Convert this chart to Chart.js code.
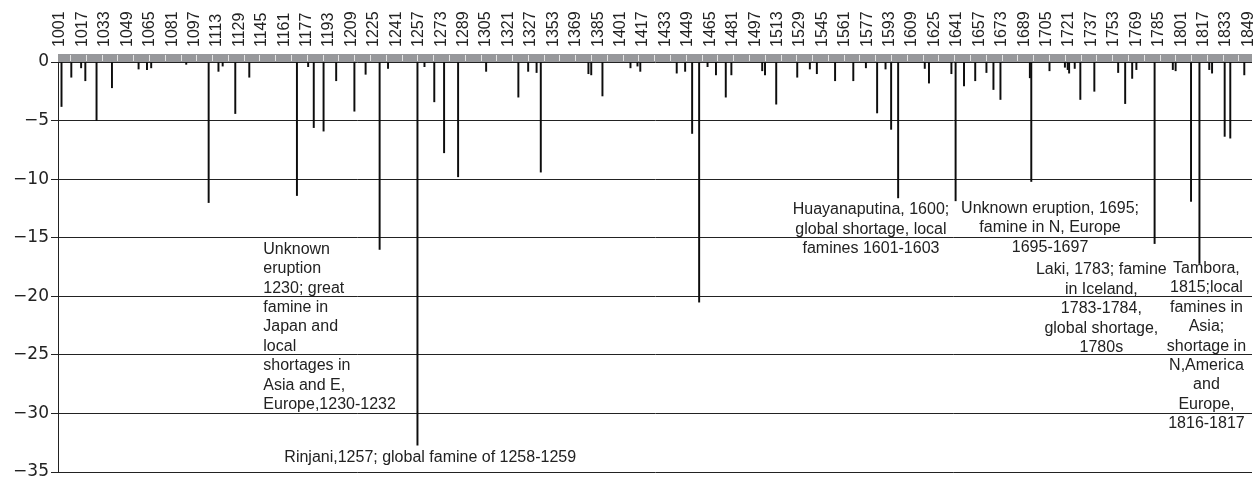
<!DOCTYPE html>
<html>
<head>
<meta charset="utf-8">
<style>
html,body{margin:0;padding:0;background:#fff;overflow:hidden}
canvas{display:block}
</style>
<script src="https://cdn.jsdelivr.net/npm/chart.js@4.4.1/dist/chart.umd.min.js"></script>
</head>
<body>
<canvas id="c" width="1258" height="478"></canvas>
<script>
// ---------- data ----------
const firstYear = 1001;
const lastYear = 1852;
const tickYears = [1001,1017,1033,1049,1065,1081,1097,1113,1129,1145,1161,1177,1193,1209,1225,1241,1257,1273,1289,1305,1321,1337,1353,1369,1385,1401,1417,1433,1449,1465,1481,1497,1513,1529,1545,1561,1577,1593,1609,1625,1641,1657,1673,1689,1705,1721,1737,1753,1769,1785,1801,1817,1833,1849];
const tickLabels = ['1001','1017','1033','1049','1065','1081','1097','1113','1129','1145','1161','1177','1193','1209','1225','1241','1257','1273','1289','1305','1321','1327','1353','1369','1385','1401','1417','1433','1449','1465','1481','1497','1513','1529','1545','1561','1577','1593','1609','1625','1641','1657','1673','1689','1705','1721','1737','1753','1769','1785','1801','1817','1833','1849'];
const yTicks = [0,-5,-10,-15,-20,-25,-30,-35];

const eventYears = [1003,1010,1017,1020,1028,1039,1058,1064,1067,1092,1108,1115,1118,1127,1137,1171,1179,1183,1190,1199,1212,1220,1230,1236,1257,1262,1269,1276,1286,1306,1329,1336,1342,1345,1379,1381,1389,1409,1414,1416,1442,1448,1453,1458,1464,1470,1477,1481,1503,1505,1513,1528,1537,1542,1555,1568,1577,1585,1591,1595,1600,1619,1622,1638,1641,1647,1655,1663,1668,1673,1694,1695,1708,1719,1721,1722,1726,1730,1740,1757,1762,1767,1770,1783,1796,1798,1809,1815,1822,1824,1833,1837,1847];
const eventValues = [-3.8,-1.3,-0.5,-1.6,-5.0,-2.2,-0.6,-0.65,-0.5,-0.2,-12.0,-0.8,-0.35,-4.4,-1.3,-11.4,-0.4,-5.6,-5.9,-1.6,-4.2,-1.05,-16.0,-0.55,-32.7,-0.4,-3.4,-7.75,-9.8,-0.8,-3.0,-0.8,-0.9,-9.4,-1.0,-1.1,-2.9,-0.5,-0.35,-0.8,-0.95,-0.8,-6.1,-20.5,-0.4,-1.1,-3.0,-1.1,-0.75,-1.1,-3.6,-1.3,-0.6,-1.0,-1.6,-1.6,-0.5,-4.35,-0.6,-5.75,-11.6,-0.55,-1.8,-1.0,-11.85,-2.05,-1.6,-0.9,-2.35,-3.2,-1.35,-10.2,-0.75,-0.45,-0.65,-0.95,-0.55,-3.2,-2.5,-0.9,-3.55,-1.4,-0.65,-15.5,-0.65,-0.75,-11.9,-17.2,-0.65,-0.95,-6.35,-6.5,-1.1];

const notes = [
  {year:1147, value:-16.0, align:'left', lines:['Unknown','eruption','1230; great','famine in','Japan and','local','shortages in','Asia and E,','Europe,1230-1232']},
  {year:1162, value:-33.8, align:'left', lines:['Rinjani,1257; global famine of 1258-1259']},
  {year:1580.6, value:-12.63, align:'center', lines:['Huayanaputina, 1600;','global shortage, local','famines 1601-1603']},
  {year:1708.4, value:-12.52, align:'center', lines:['Unknown eruption, 1695;','famine in N, Europe','1695-1697']},
  {year:1745, value:-17.76, align:'center', lines:['Laki, 1783; famine','in Iceland,','1783-1784,','global shortage,','1780s']},
  {year:1820, value:-17.63, align:'center', lines:['Tambora,','1815;local','famines in','Asia;','shortage in','N,America','and','Europe,','1816-1817']}
];

// ---------- build ----------
const categories = [];
for (let yr = firstYear; yr <= lastYear; yr++) categories.push(String(yr));
const points = eventYears.map((yr, i) => ({x: String(yr), y: eventValues[i]}));

const FONT = '"Liberation Sans", Arial, Helvetica, sans-serif';
const INK = '#222222';

const bandPlugin = {
  id: 'band',
  beforeDatasetsDraw(chart) {
    const {ctx, chartArea, scales} = chart;
    const y0 = scales.y.getPixelForValue(0);
    ctx.save();
    ctx.fillStyle = '#97989b';
    ctx.fillRect(chartArea.left, y0 - 8, chartArea.right - chartArea.left, 8);
    ctx.fillStyle = '#e4e4e4';
    for (let px = chartArea.left + 12; px < chartArea.right - 2; px += 15.79) {
      ctx.fillRect(Math.round(px), y0 - 7, 1, 6);
    }
    ctx.restore();
  }
};

const notesPlugin = {
  id: 'notes',
  afterDatasetsDraw(chart) {
    const {ctx, scales} = chart;
    ctx.save();
    ctx.font = '16px ' + FONT;
    ctx.fillStyle = INK;
    ctx.textBaseline = 'middle';
    const lh = 19.4;
    notes.forEach(n => {
      const px = scales.x.getPixelForValue(n.year - firstYear);
      const py = scales.y.getPixelForValue(n.value);
      ctx.textAlign = n.align;
      n.lines.forEach((t, i) => ctx.fillText(t, px, py + i * lh));
    });
    ctx.restore();
  }
};

new Chart(document.getElementById('c'), {
  type: 'bar',
  data: {
    labels: categories,
    datasets: [{
      data: points,
      backgroundColor: '#0d0d0d',
      borderWidth: 0,
      barThickness: 1.3,
      categoryPercentage: 1,
      barPercentage: 1
    }]
  },
  options: {
    responsive: false,
    devicePixelRatio: 1,
    animation: false,
    layout: {padding: {top: 0, left: 0, right: 6, bottom: 6}},
    plugins: {legend: {display: false}, tooltip: {enabled: false}},
    scales: {
      x: {
        type: 'category',
        position: 'top',
        offset: true,
        grid: {display: false, drawTicks: false},
        border: {display: false},
        ticks: {
          autoSkip: false,
          minRotation: 90,
          maxRotation: 90,
          padding: 15,
          labelOffset: 20.5,
          color: INK,
          font: {size: 16, family: FONT},
          callback: function(v, i) {
            const k = tickYears.indexOf(Number(categories[i]));
            return k >= 0 ? tickLabels[k] : '';
          }
        },
        afterFit(s) { s.height = 62; s.paddingLeft = 0; s.paddingRight = 0; }
      },
      y: {
        min: -35,
        max: 0,
        afterBuildTicks(s) { s.ticks = yTicks.map(v => ({value: v})); },
        ticks: {
          padding: 2,
          color: INK,
          font: {size: 17, family: '"DejaVu Sans", sans-serif'},
          callback: v => v === 0 ? '0' : '\u2212' + Math.abs(v)
        },
        grid: {color: '#222222', lineWidth: 1, drawTicks: true, tickLength: 7},
        border: {display: true, color: '#222222', width: 1},
        afterFit(s) { s.width = 58; s.paddingTop = 0; s.paddingBottom = 0; }
      }
    }
  },
  plugins: [bandPlugin, notesPlugin]
});
</script>
</body>
</html>
